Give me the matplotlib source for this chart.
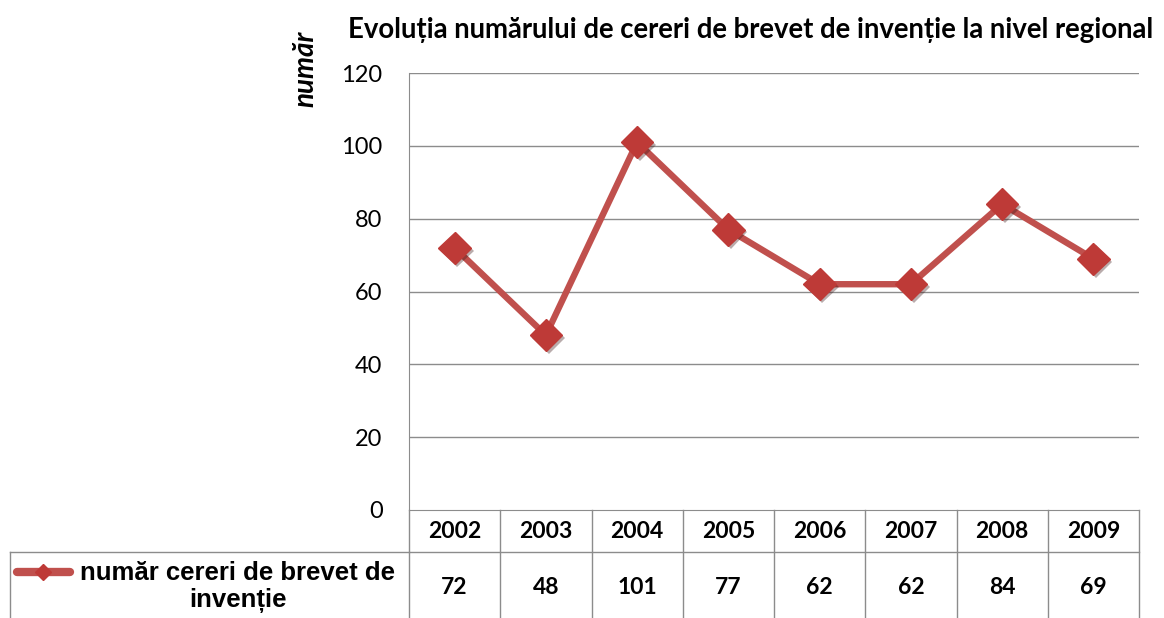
import matplotlib
matplotlib.use("Agg")
import matplotlib.pyplot as plt
from matplotlib import patheffects as pe
from matplotlib.lines import Line2D

years = ["2002", "2003", "2004", "2005", "2006", "2007", "2008", "2009"]
counts = [72, 48, 101, 77, 62, 62, 84, 69]
yticks = [0, 20, 40, 60, 80, 100, 120]

title = "Evoluția numărului de cereri de brevet de invenție la nivel regional"
ylabel = "număr"
series_label = "număr cereri de brevet de\ninvenție"

RED = "#C0504D"
MARK = "#BE3A37"
GRID = "#8C8C8C"
CAL = ["Lato", "DejaVu Sans"]

W, H = 1164, 618
fig = plt.figure(figsize=(W / 100, H / 100), dpi=100)
# plot area in pixels: x 409..1139, y 73..510
ax = fig.add_axes([409 / W, (H - 510) / H, 730 / W, 437 / H])

x = list(range(len(years)))
ax.plot(x, counts, color=RED, lw=4.6, solid_capstyle="round", zorder=3)
ax.plot(x, counts, ls="none", marker="D", ms=16.5, color=MARK, mec=MARK, zorder=4,
        path_effects=[pe.SimplePatchShadow(offset=(2, -2), alpha=0.35), pe.Normal()])

ax.set_xlim(-0.5, len(years) - 0.5)
ax.set_ylim(0, 120)
ax.set_yticks(yticks)
ax.set_yticklabels([str(v) for v in yticks], fontsize=17, family=CAL)
ax.tick_params(axis="y", length=0, pad=19)
ax.set_xticks([])
for v in yticks[1:]:
    ax.axhline(v, color=GRID, lw=1, zorder=1)
for s in ["top", "right"]:
    ax.spines[s].set_visible(False)
ax.spines["left"].set_color(GRID)
ax.spines["bottom"].set_color(GRID)

fig.text(751 / W, 1 - 30 / H, title, ha="center", va="center", fontsize=19.8,
         fontweight="bold", family=CAL)
fig.text(305 / W, 1 - 69 / H, ylabel, ha="center", va="center", rotation=90,
         fontsize=20, fontweight="bold", style="italic", family=CAL)

# data table below the axis
def ay(py):
    return (510 - py) / 437

tr = ax.get_xaxis_transform()
lk = dict(color=GRID, lw=1, clip_on=False, zorder=2)
y_top, y_mid, y_bot = ay(510), ay(552), ay(620)
for i in range(len(years) + 1):
    ax.add_line(Line2D([i - 0.5, i - 0.5], [y_top, y_bot], transform=tr, **lk))
ax.add_line(Line2D([-0.5, len(years) - 0.5], [y_mid, y_mid], transform=tr, **lk))
xl = (10 - 409) / 730
ax.add_line(Line2D([xl, 0], [y_mid, y_mid], transform=ax.transAxes, **lk))
ax.add_line(Line2D([xl, xl], [y_mid, y_bot], transform=ax.transAxes, **lk))

for xi, yr, c in zip(x, years, counts):
    ax.text(xi, ay(531), yr, transform=tr, ha="center", va="center", fontsize=16.5,
            fontweight="bold", family=CAL)
    ax.text(xi, ay(587), str(c), transform=tr, ha="center", va="center", fontsize=16.5,
            fontweight="bold", family=CAL)

# legend key inside the label cell
ta = ax.transAxes
ax.add_line(Line2D([(17 - 409) / 730, (70 - 409) / 730], [ay(572), ay(572)], transform=ta,
                   color=RED, lw=6, solid_capstyle="round", clip_on=False, zorder=3))
ax.add_line(Line2D([(43 - 409) / 730], [ay(572)], transform=ta, ls="none", marker="D",
                   ms=8, color=MARK, clip_on=False, zorder=4))
ax.text((238 - 409) / 730, ay(587), series_label, transform=ta, ha="center", va="center",
        multialignment="center", fontsize=18.5, fontweight="bold",
        family="Liberation Sans", linespacing=1.2)

fig.savefig("out.png", dpi=100)
